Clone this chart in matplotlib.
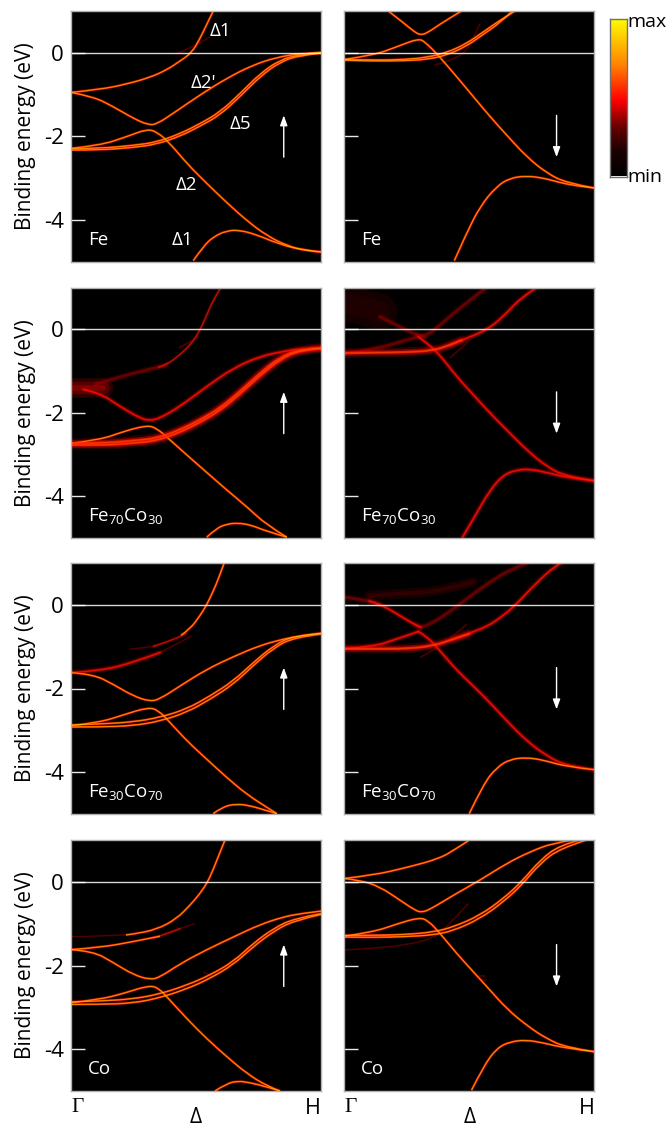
import matplotlib
matplotlib.use("Agg")
import matplotlib.pyplot as plt
import numpy as np
from matplotlib.colors import LinearSegmentedColormap
from matplotlib.patches import PathPatch
from matplotlib.path import Path

plt.rcParams["font.family"] = ["Open Sans", "DejaVu Sans"]
plt.rcParams["mathtext.default"] = "regular"

# Bands: x is the fraction of the way from Gamma to H, y is eV
# Fe, spin up
fe_up_a_x = [0, .116, .223, .316, .383, .436, .483, .516, .543, .569]
fe_up_a_y = [-.95, -.88, -.75, -.59, -.41, -.20, 0, .34, .68, 1.0]
fe_up_b_x = [0, .089, .169, .249, .309, .343, .409, .516, .623, .729, .823, .916, 1]
fe_up_b_y = [-.95, -1.05, -1.29, -1.57, -1.73, -1.71, -1.45, -1.01, -.61, -.29, -.11, -.02, .01]
fe_up_c_x = [0, .116, .223, .303, .343, .396, .463, .543, .623, .703, .783, .863, .943, 1]
fe_up_c_y = [-2.29, -2.22, -2.01, -1.83, -1.89, -2.17, -2.65, -3.13, -3.59, -4.02, -4.38, -4.62, -4.75, -4.77]
fe_up_d_x = [0, .116, .249, .343, .436, .516, .596, .676, .756, .836, .916, 1]
fe_up_d_y = [-2.30, -2.29, -2.22, -2.14, -1.94, -1.70, -1.42, -.98, -.50, -.17, -.04, 0]
fe_up_e_y = [-2.33, -2.33, -2.27, -2.19, -2.00, -1.76, -1.49, -1.05, -.57, -.22, -.06, -.01]
fe_up_f_x = [.489, .529, .569, .623, .676, .743, .823, .916, 1]
fe_up_f_y = [-4.98, -4.64, -4.41, -4.26, -4.25, -4.36, -4.56, -4.72, -4.77]
fe_up_g_x = [.42, .476, .556]
fe_up_g_y = [-.03, .10, .38]
fe_up_n_x = [.569, .583, .596]
fe_up_n_y = [-1.49, -1.53, -1.57]

# Fe, spin down
fe_dn_b_x = [.176, .236, .283, .303, .329, .396, .469]
fe_dn_b_y = [1.0, .72, .49, .43, .46, .74, 1.0]
fe_dn_c_x = [0, .116, .209, .296, .323, .376, .449, .516, .583, .649, .729, .809, .889, 1]
fe_dn_c_y = [-.16, -.06, .14, .34, .26, -.06, -.57, -1.05, -1.53, -1.97, -2.49, -2.88, -3.12, -3.24]
fe_dn_d_x = [0, .116, .249, .329, .409, .489, .556, .623, .683]
fe_dn_d_y = [-.16, -.18, -.16, -.11, 0, .22, .50, .78, 1.0]
fe_dn_e_x = [0, .116, .249, .329, .409, .489, .556, .623, .669]
fe_dn_e_y = [-.18, -.20, -.19, -.16, -.06, .16, .44, .72, .98]
fe_dn_f_x = [.44, .489, .543, .609, .663, .729, .796, .863, .929, 1]
fe_dn_f_y = [-4.98, -4.32, -3.68, -3.20, -3.00, -2.95, -3.00, -3.11, -3.19, -3.24]
fe_dn_g_x = [.36, .449, .503, .543]
fe_dn_g_y = [-.30, -.15, .14, .70]
fe_dn_n_x = [.576, .586, .596]
fe_dn_n_y = [-1.53, -1.55, -1.57]

# Fe70Co30, spin up
fe70_up_q_x = [.10, .223, .316, .383]
fe70_up_q_y = [-1.31, -1.09, -.96, -.85]
fe70_up_a_x = [.35, .383, .436, .483, .516, .543, .569, .599]
fe70_up_a_y = [-.91, -.85, -.61, -.34, -.02, .34, .70, 1.0]
fe70_up_s_x = [0, .06, .13]
fe70_up_s_y = [-1.41, -1.41, -1.40]
fe70_up_b_x = [.05, .116, .196, .276, .316, .356, .436, .543, .649, .756, .849, .916, 1]
fe70_up_b_y = [-1.44, -1.53, -1.85, -2.13, -2.19, -2.13, -1.85, -1.37, -.93, -.65, -.53, -.47, -.45]
fe70_up_c_x = [0, .116, .209, .303, .343, .396, .463, .543, .623, .703, .783, .863]
fe70_up_c_y = [-2.73, -2.65, -2.45, -2.30, -2.37, -2.65, -3.01, -3.43, -3.85, -4.25, -4.69, -4.98]
fe70_up_d_x = [0, .116, .249, .343, .436, .516, .596, .676, .756, .836, .916, 1]
fe70_up_d_y = [-2.73, -2.73, -2.67, -2.61, -2.41, -2.17, -1.89, -1.49, -1.05, -.67, -.48, -.45]
fe70_up_e_y = [-2.77, -2.78, -2.73, -2.67, -2.47, -2.23, -1.95, -1.55, -1.11, -.72, -.50, -.46]
fe70_up_f_x = [.543, .583, .623, .663, .716, .783, .863]
fe70_up_f_y = [-4.98, -4.76, -4.67, -4.64, -4.68, -4.84, -4.98]
fe70_up_g_x = [.43, .47, .51]
fe70_up_g_y = [-.45, -.32, -.18]

# Fe70Co30, spin down
fe70_dn_s_x = [0, .07, .14]
fe70_dn_s_y = [.62, .55, .42]
fe70_dn_b_x = [.143, .223, .289, .323]
fe70_dn_b_y = [.30, .06, -.14, -.19]
fe70_dn_u_x = [.289, .323, .383, .476, .569]
fe70_dn_u_y = [-.14, -.19, .10, .58, 1.0]
fe70_dn_c_x = [0, .143, .223, .296]
fe70_dn_c_y = [-.59, -.45, -.30, -.18]
fe70_dn_k_x = [.296, .332, .376, .449, .516, .583, .649, .729, .809, .889, 1]
fe70_dn_k_y = [-.18, -.34, -.57, -1.13, -1.57, -2.01, -2.41, -2.89, -3.29, -3.53, -3.63]
fe70_dn_d_x = [0, .116, .249, .356, .423, .47]
fe70_dn_d_y = [-.57, -.56, -.55, -.51, -.38, -.26]
fe70_dn_r_x = [.423, .503, .569, .636, .703, .769]
fe70_dn_r_y = [-.38, -.18, -.02, .30, .74, 1.0]
fe70_dn_f_x = [.473, .529, .583, .636, .689, .743, .809, .889, 1]
fe70_dn_f_y = [-4.98, -4.41, -3.85, -3.49, -3.37, -3.35, -3.43, -3.55, -3.63]
fe70_dn_g_x = [.423, .476, .53]
fe70_dn_g_y = [-.69, -.41, -.10]
fe70_dn_n_x = [.583, .59, .596]
fe70_dn_n_y = [-1.97, -1.99, -2.01]

# Fe30Co70, spin up
fe30_up_q_x = [.236, .30, .343]
fe30_up_q_y = [-1.06, -1.02, -.98]
fe30_up_r_x = [.33, .423, .46]
fe30_up_r_y = [-.99, -.82, -.68]
fe30_up_a_x = [.44, .476, .516, .543, .569, .589, .612]
fe30_up_a_y = [-.73, -.58, -.26, 0, .33, .61, .99]
fe30_up_g_x = [0, .116, .249, .356]
fe30_up_g_y = [-1.62, -1.58, -1.38, -1.14]
fe30_up_h_x = [.356, .423, .483]
fe30_up_h_y = [-1.14, -.94, -.74]
fe30_up_b_x = [0, .089, .169, .249, .316, .356, .436, .543, .649, .756, .849, .916, 1]
fe30_up_b_y = [-1.62, -1.66, -1.90, -2.18, -2.31, -2.25, -1.94, -1.54, -1.24, -.97, -.82, -.74, -.68]
fe30_up_c_x = [0, .116, .209, .309, .349, .396, .463, .543, .623, .703, .783, .823]
fe30_up_c_y = [-2.89, -2.81, -2.63, -2.45, -2.52, -2.81, -3.25, -3.69, -4.13, -4.53, -4.84, -4.99]
fe30_up_d_x = [0, .116, .249, .356, .463, .556, .649, .729, .809, .889, 1]
fe30_up_d_y = [-2.87, -2.85, -2.80, -2.69, -2.49, -2.18, -1.82, -1.38, -.98, -.74, -.68]
fe30_up_e_y = [-2.92, -2.92, -2.89, -2.78, -2.57, -2.26, -1.90, -1.45, -1.04, -.78, -.70]
fe30_up_f_x = [.569, .609, .663, .716, .783, .823]
fe30_up_f_y = [-4.99, -4.82, -4.76, -4.80, -4.92, -4.99]
fe30_up_n_x = [.556, .566, .576]
fe30_up_n_y = [-2.18, -2.20, -2.22]

# Fe30Co70, spin down
fe30_dn_l_x = [0, .063, .143]
fe30_dn_l_y = [.18, .15, .02]
fe30_dn_b_x = [.10, .143, .223, .283, .307]
fe30_dn_b_y = [.09, .02, -.26, -.48, -.54]
fe30_dn_u_x = [.283, .307, .343, .409, .489, .569, .663, .729]
fe30_dn_u_y = [-.48, -.54, -.46, -.22, .14, .49, .85, .99]
fe30_dn_s_x = [.10, .263, .383, .516]
fe30_dn_s_y = [.22, .28, .33, .55]
fe30_dn_c_x = [0, .116, .209, .296]
fe30_dn_c_y = [-1.05, -1.0, -.82, -.64]
fe30_dn_k_x = [.296, .332, .383, .449, .516, .583, .649, .729, .809, .889, 1]
fe30_dn_k_y = [-.64, -.76, -1.10, -1.56, -1.94, -2.34, -2.77, -3.25, -3.61, -3.85, -3.94]
fe30_dn_d_x = [0, .116, .249, .356, .436, .50]
fe30_dn_d_y = [-1.05, -1.05, -1.05, -.98, -.82, -.69]
fe30_dn_r_x = [.436, .556, .636, .689, .769, .849, .869]
fe30_dn_r_y = [-.82, -.58, -.26, .02, .53, .96, 1.0]
fe30_dn_f_x = [.50, .556, .609, .663, .729, .796, .889, 1]
fe30_dn_f_y = [-4.99, -4.29, -3.89, -3.69, -3.65, -3.71, -3.87, -3.94]
fe30_dn_g_x = [.303, .423, .489]
fe30_dn_g_y = [-1.26, -.86, -.46]
fe30_dn_n_x = [.556, .566, .576]
fe30_dn_n_y = [-2.20, -2.20, -2.20]

# Co, spin up
co_up_q_x = [0, .116, .249]
co_up_q_y = [-1.31, -1.31, -1.25]
co_up_a_x = [.22, .249, .343, .423, .476, .516, .547, .569, .589, .616]
co_up_a_y = [-1.27, -1.25, -1.14, -.88, -.56, -.28, 0, .30, .60, 1.0]
co_up_g_x = [0, .116, .249, .356]
co_up_g_y = [-1.62, -1.57, -1.43, -1.30]
co_up_h_x = [.33, .38, .436]
co_up_h_y = [-1.34, -1.25, -1.12]
co_up_t_x = [.436, .47, .496]
co_up_t_y = [-1.12, -1.05, -1.0]
co_up_b_x = [0, .089, .169, .249, .316, .356, .436, .543, .649, .756, .849, .916, 1]
co_up_b_y = [-1.62, -1.66, -1.93, -2.22, -2.34, -2.28, -1.96, -1.62, -1.32, -1.02, -.84, -.76, -.70]
co_up_c_x = [0, .116, .209, .309, .349, .396, .463, .543, .623, .703, .783, .836]
co_up_c_y = [-2.89, -2.81, -2.67, -2.48, -2.53, -2.83, -3.27, -3.75, -4.18, -4.58, -4.88, -5.0]
co_up_d_x = [0, .116, .249, .356, .463, .556, .649, .729, .809, .889, 1]
co_up_d_y = [-2.87, -2.85, -2.80, -2.68, -2.47, -2.23, -1.91, -1.47, -1.12, -.88, -.76]
co_up_e_y = [-2.93, -2.93, -2.90, -2.77, -2.56, -2.31, -1.98, -1.55, -1.19, -.93, -.78]
co_up_f_x = [.576, .623, .669, .716, .783, .836]
co_up_f_y = [-5.0, -4.82, -4.76, -4.80, -4.90, -5.0]
co_up_n_x = [.529, .549, .569]
co_up_n_y = [-2.15, -2.21, -2.27]

# Co, spin down
co_dn_a_x = [0, .116, .249, .383, .449, .496]
co_dn_a_y = [.08, .16, .34, .56, .80, .98]
co_dn_b_x = [0, .063, .143, .223, .283, .309, .343, .436, .543, .649, .743, .836, .916]
co_dn_b_y = [.08, .04, -.12, -.44, -.68, -.73, -.66, -.32, .04, .44, .72, .93, 1.0]
co_dn_c_x = [0, .116, .209, .300, .336, .383, .449, .516, .583, .649, .729, .809, .889, 1]
co_dn_c_y = [-1.30, -1.20, -1.01, -.85, -.93, -1.23, -1.71, -2.15, -2.59, -3.03, -3.43, -3.75, -3.96, -4.06]
co_dn_d_x = [0, .116, .249, .356, .436, .543, .636, .709, .783, .863, .943]
co_dn_d_y = [-1.28, -1.28, -1.26, -1.20, -1.08, -.80, -.40, 0, .52, .88, 1.0]
co_dn_e_x = [0, .116, .249, .356, .436, .543, .636, .709, .783, .863, .969]
co_dn_e_y = [-1.32, -1.33, -1.31, -1.27, -1.17, -.88, -.48, -.08, .44, .80, 1.0]
co_dn_f_x = [.509, .556, .609, .663, .729, .796, .889, 1]
co_dn_f_y = [-4.98, -4.42, -3.98, -3.82, -3.78, -3.85, -3.98, -4.06]
co_dn_g_x = [0, .116, .249, .356, .423, .496]
co_dn_g_y = [-1.63, -1.59, -1.51, -1.35, -1.0, -.52]
co_dn_n_x = [.536, .55, .563]
co_dn_n_y = [-2.25, -2.25, -2.25]
co_dn_m_x = [.543, .556, .57]
co_dn_m_y = [-2.35, -2.35, -2.35]

names = ["Fe", "Fe", r"Fe$_{70}$Co$_{30}$", r"Fe$_{70}$Co$_{30}$",
         r"Fe$_{30}$Co$_{70}$", r"Fe$_{30}$Co$_{70}$", "Co", "Co"]
spin_up = [True, False] * 4
delta_labels = ["Δ1", "Δ2'", "Δ5", "Δ2", "Δ1"]
delta_x = [.596, .528, .676, .46, .444]
delta_y = [.52, -.72, -1.71, -3.17, -4.49]

# (x, y, look) per band, per panel
panels = [
    [(fe_up_g_x, fe_up_g_y, "ghost"), (fe_up_n_x, fe_up_n_y, "ghost"), (fe_up_a_x, fe_up_a_y, "sharp"),
     (fe_up_b_x, fe_up_b_y, "sharp"), (fe_up_c_x, fe_up_c_y, "sharp"), (fe_up_d_x, fe_up_d_y, "sharp"),
     (fe_up_d_x, fe_up_e_y, "sharp"), (fe_up_f_x, fe_up_f_y, "sharp")],
    [(fe_dn_g_x, fe_dn_g_y, "ghost"), (fe_dn_n_x, fe_dn_n_y, "ghost"), (fe_dn_b_x, fe_dn_b_y, "sharp"),
     (fe_dn_c_x, fe_dn_c_y, "sharp"), (fe_dn_d_x, fe_dn_d_y, "sharp"), (fe_dn_e_x, fe_dn_e_y, "sharp"),
     (fe_dn_f_x, fe_dn_f_y, "sharp")],
    [(fe70_up_g_x, fe70_up_g_y, "ghost"), (fe70_up_s_x, fe70_up_s_y, "smear"), (fe70_up_q_x, fe70_up_q_y, "dim"),
     (fe70_up_a_x, fe70_up_a_y, "thin"), (fe70_up_b_x, fe70_up_b_y, "soft"), (fe70_up_c_x, fe70_up_c_y, "sharp"),
     (fe70_up_d_x, fe70_up_d_y, "broad"), (fe70_up_d_x, fe70_up_e_y, "broad"), (fe70_up_f_x, fe70_up_f_y, "sharp")],
    [(fe70_dn_g_x, fe70_dn_g_y, "ghost"), (fe70_dn_n_x, fe70_dn_n_y, "ghost"), (fe70_dn_s_x, fe70_dn_s_y, "haze"),
     (fe70_dn_b_x, fe70_dn_b_y, "dim"), (fe70_dn_u_x, fe70_dn_u_y, "dim"), (fe70_dn_c_x, fe70_dn_c_y, "dim"),
     (fe70_dn_k_x, fe70_dn_k_y, "soft"), (fe70_dn_d_x, fe70_dn_d_y, "broad"), (fe70_dn_r_x, fe70_dn_r_y, "soft"),
     (fe70_dn_f_x, fe70_dn_f_y, "soft")],
    [(fe30_up_q_x, fe30_up_q_y, "ghost"), (fe30_up_r_x, fe30_up_r_y, "thin"), (fe30_up_h_x, fe30_up_h_y, "ghost"),
     (fe30_up_g_x, fe30_up_g_y, "soft"), (fe30_up_a_x, fe30_up_a_y, "sharp"), (fe30_up_b_x, fe30_up_b_y, "sharp"),
     (fe30_up_n_x, fe30_up_n_y, "ghost"), (fe30_up_c_x, fe30_up_c_y, "sharp"), (fe30_up_d_x, fe30_up_d_y, "sharp"),
     (fe30_up_d_x, fe30_up_e_y, "sharp"), (fe30_up_f_x, fe30_up_f_y, "sharp")],
    [(fe30_dn_g_x, fe30_dn_g_y, "ghost"), (fe30_dn_n_x, fe30_dn_n_y, "ghost"), (fe30_dn_s_x, fe30_dn_s_y, "faint"),
     (fe30_dn_l_x, fe30_dn_l_y, "dim"), (fe30_dn_u_x, fe30_dn_u_y, "dim"), (fe30_dn_b_x, fe30_dn_b_y, "soft"),
     (fe30_dn_c_x, fe30_dn_c_y, "soft"), (fe30_dn_k_x, fe30_dn_k_y, "soft"), (fe30_dn_d_x, fe30_dn_d_y, "broad"),
     (fe30_dn_r_x, fe30_dn_r_y, "soft"), (fe30_dn_f_x, fe30_dn_f_y, "sharp")],
    [(co_up_q_x, co_up_q_y, "ghost"), (co_up_h_x, co_up_h_y, "thin"), (co_up_t_x, co_up_t_y, "ghost"),
     (co_up_n_x, co_up_n_y, "ghost"), (co_up_g_x, co_up_g_y, "sharp"), (co_up_a_x, co_up_a_y, "sharp"),
     (co_up_b_x, co_up_b_y, "sharp"), (co_up_c_x, co_up_c_y, "sharp"), (co_up_d_x, co_up_d_y, "sharp"),
     (co_up_d_x, co_up_e_y, "sharp"), (co_up_f_x, co_up_f_y, "sharp")],
    [(co_dn_g_x, co_dn_g_y, "ghost"), (co_dn_n_x, co_dn_n_y, "ghost"), (co_dn_m_x, co_dn_m_y, "ghost"),
     (co_dn_a_x, co_dn_a_y, "sharp"), (co_dn_b_x, co_dn_b_y, "sharp"), (co_dn_c_x, co_dn_c_y, "sharp"),
     (co_dn_d_x, co_dn_d_y, "sharp"), (co_dn_e_x, co_dn_e_y, "sharp"), (co_dn_f_x, co_dn_f_y, "sharp")],
]

# stroke layers (colour, alpha, width in points), drawn widest first so that
# the cores of overlapping bands pile up towards yellow
looks = {
    "haze": [("#280000", .5, 26), ("#300000", .4, 15)],
    "faint": [("#300000", .5, 7), ("#500000", .4, 3)],
    "ghost": [("#600000", .25, 1.8), ("#a00000", .45, .8)],
    "smear": [("#600000", .45, 14), ("#900000", .45, 9), ("#c00000", .4, 4)],
    "dim": [("#500000", .35, 4.5), ("#a00000", .55, 2.2)],
    "thin": [("#700000", .35, 2.6), ("#e01000", .8, 1.1)],
    "soft": [("#600000", .35, 4.5), ("#c00000", .55, 2.4), ("#ff1000", .8, 1.1)],
    "sharp": [("#700000", .4, 2.4), ("#ff2000", .95, 1.4), ("#ffe000", .55, .75)],
    "broad": [("#700000", .35, 7), ("#e00000", .5, 4), ("#ff2000", .8, 1.8), ("#ffe000", .16, .8)],
}
round_caps = ["haze", "faint", "smear", "dim", "thin", "soft", "broad"]

W, H = 667, 1127
columns = [(71, 321), (344.3, 594.3)]
rows = [(11, 261.5), (287.5, 538), (563, 814), (840, 1091)]


def smooth_path(xs, ys):
    # quadratic pieces with the read points as control points
    pts = np.column_stack([xs, ys])
    verts = [pts[0]]
    codes = [Path.MOVETO]
    for i in range(1, len(pts) - 1):
        end = pts[i + 1] if i == len(pts) - 2 else (pts[i] + pts[i + 1]) / 2
        verts += [pts[i], end]
        codes += [Path.CURVE3, Path.CURVE3]
    return Path(verts, codes)


fig = plt.figure(figsize=(W / 100, H / 100), dpi=100)

for i, bands in enumerate(panels):
    r, c = i // 2, i % 2
    x0, x1 = columns[c]
    top, bottom = rows[r]
    ax = fig.add_axes([x0 / W, 1 - bottom / H, (x1 - x0) / W, (bottom - top) / H], facecolor="black")
    ax.set_xlim(0, 1)
    ax.set_ylim(-5, 1)

    for layer in range(4):
        for xs, ys, look in bands:
            if layer < len(looks[look]):
                color, alpha, lw = looks[look][layer]
                cap = "round" if look in round_caps else "butt"
                ax.add_patch(PathPatch(smooth_path(xs, ys), fc="none", ec=color, alpha=alpha, lw=lw, capstyle=cap))

    ax.axhline(0, color="white", lw=1, alpha=.85)
    for s in ax.spines.values():
        s.set_color("#b0b0b0")
        s.set_linewidth(1)
    ax.set_yticks([0, -2, -4])
    ax.tick_params(axis="y", direction="in", length=10, width=1, color="#e8e8e8", pad=5, labelsize=16)
    ax.tick_params(axis="x", length=0, pad=5, labelsize=15.5)
    if c == 0:
        ax.set_yticklabels(["0", "-2", "-4"])
        ax.set_ylabel("Binding energy (eV)", fontsize=15, labelpad=6)
    else:
        ax.set_yticklabels([])
    if r == 3:
        ax.set_xticks([0, 1])
        ax.set_xticklabels(["Γ", "H"])
        ax.get_xticklabels()[0].set_ha("left")
        ax.get_xticklabels()[0].set_family(["Liberation Serif"])
        ax.get_xticklabels()[1].set_ha("right")
        ax.set_xlabel("Δ", fontsize=15, labelpad=-8.5)
    else:
        ax.set_xticks([])

    ax.text(.068, -4.48, names[i], color="white", fontsize=13.5, ha="left", va="center")
    if spin_up[i]:
        ax.annotate("", xy=(.851, -1.5), xytext=(.851, -2.5),
                    arrowprops=dict(arrowstyle="-|>,head_width=.22,head_length=.6", color="white", lw=1, shrinkA=0, shrinkB=0))
    else:
        ax.annotate("", xy=(.849, -2.5), xytext=(.849, -1.5),
                    arrowprops=dict(arrowstyle="-|>,head_width=.22,head_length=.6", color="white", lw=1, shrinkA=0, shrinkB=0))
    if i == 0:
        for lab, dx, dy in zip(delta_labels, delta_x, delta_y):
            ax.text(dx, dy, lab, color="white", fontsize=13.5, ha="center", va="center")

# colour scale
hot = LinearSegmentedColormap.from_list(
    "hot_scale", [(0, "black"), (.15, "#1a0000"), (.3, "#600000"), (.48, "#ff0000"),
                  (.7, "#ff8000"), (.85, "#ffc000"), (1, "#ffff00")])
cax = fig.add_axes([610 / W, 1 - 176.5 / H, 16.5 / W, 158 / H])
cax.imshow(np.linspace(1, 0, 256)[:, None], cmap=hot, aspect="auto", extent=[0, 1, 0, 1])
cax.set_xticks([])
cax.set_yticks([])
for s in cax.spines.values():
    s.set_color("#707070")
    s.set_linewidth(1)
fig.text(627 / W, 1 - 22 / H, "max", fontsize=14, ha="left", va="center")
fig.text(627 / W, 1 - 177 / H, "min", fontsize=14, ha="left", va="center")

plt.savefig("out.png", dpi=100)
